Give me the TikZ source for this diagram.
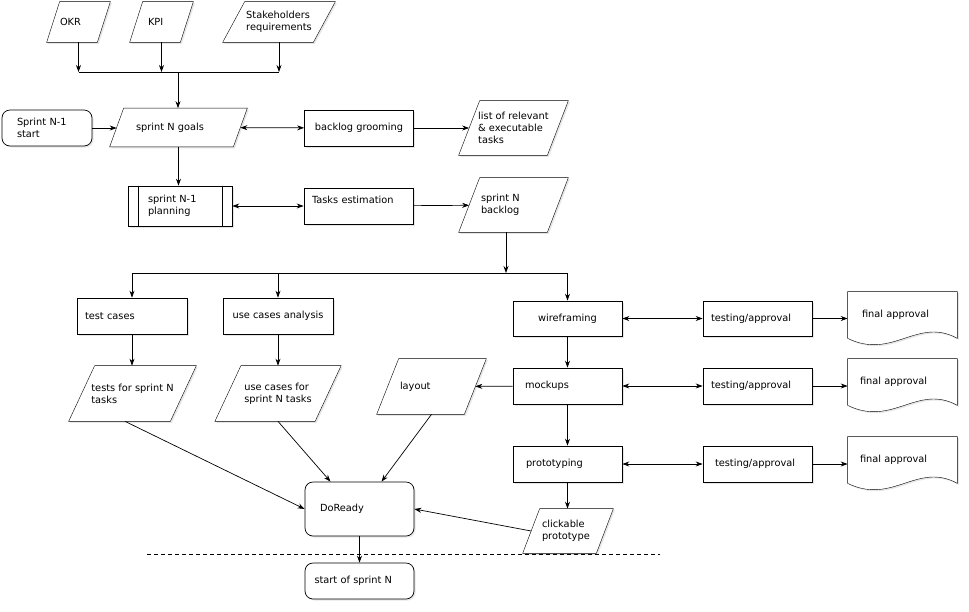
\documentclass[tikz,border=0pt]{standalone}
\usepackage{fontspec}
\setmainfont{DejaVu Sans}
\usetikzlibrary{arrows.meta, positioning, calc, shadows, backgrounds}

\begin{document}
\begin{tikzpicture}[x=1pt, y=-1pt, line width=0.7pt, >={Stealth[length=7pt, width=5pt]},
    every node/.style={font=\fontsize{9.8}{12}\selectfont, inner sep=0pt},
    boxshadow/.style={fill=white, drop shadow={opacity=0.2, shadow xshift=1.5pt, shadow yshift=-1.5pt}},
    box/.style={rectangle, draw, boxshadow, minimum width=109pt, minimum height=36pt, align=left},
    term/.style={rounded corners=8pt},
    data/.style={rectangle, align=left},
    doc/.style={rectangle, minimum width=109pt, minimum height=46pt, align=left}]
    \useasboundingbox (0,0) rectangle (969,611);

    % inputs
    \node[data, minimum width=50pt, minimum height=40pt, text width=37pt] (okr) at (78.5,22) {OKR};
    \node[data, minimum width=50pt, minimum height=40pt, text width=27pt] (kpi) at (161.5,22) {KPI};
    \node[data, minimum width=90pt, minimum height=40pt] (stake) at (279,22) {Stakeholders\\requirements};
    \coordinate (join) at (178,72);

    % goals and planning
    \node[box, term, minimum width=90pt, text width=60pt] (start) at (47,128) {Sprint N-1\\start};
    \node[data, minimum width=123pt, minimum height=38pt, text width=85pt] (goals) at (178.5,127.5) {sprint N goals};
    \node[box, align=center] (groom) at (359,128) {backlog grooming};
    \node[data, minimum width=88pt, minimum height=54pt] (list) at (513.5,128) {list of relevant\\\& executable\\tasks};
    \node[box, minimum width=104pt, minimum height=40pt, text width=64pt] (plan) at (180,206) {sprint N-1\\planning};
    \node[box, text width=93pt, text depth=12pt] (estim) at (358.5,206) {Tasks estimation};
    \node[data, minimum width=88pt, minimum height=54pt, text width=65pt] (backlog) at (513.5,205) {sprint N\\backlog};
    \coordinate (fork) at (506,273);

    % analysis
    \node[box, minimum width=110pt, text width=94pt] (testc) at (132,316) {test cases};
    \node[box, minimum width=110pt, align=center] (usec) at (278,316) {use cases analysis};
    \node[data, minimum width=101pt, minimum height=55pt] (tests) at (132.5,393.5) {tests for sprint N\\tasks};
    \node[data, minimum width=99.5pt, minimum height=55pt] (usesp) at (278,393.5) {use cases for\\sprint N tasks};
    \node[data, minimum width=87pt, minimum height=55pt, text width=63pt] (layout) at (431.5,386.5) {layout};

    % design
    \node[box, minimum height=35pt, align=center] (wire) at (567.5,318.5) {wireframing};
    \node[box, minimum height=35pt, text width=93pt] (test1) at (757.5,318.5) {testing/approval};
    \node[doc, text width=81pt] (final1) at (902.5,315) {final approval};
    \node[box, text width=85pt] (mock) at (567.5,386) {mockups};
    \node[box, text width=93pt] (test2) at (757.5,386) {testing/approval};
    \node[doc, text width=85pt] (final2) at (902.5,382) {final approval};
    \node[box, text width=83pt] (proto) at (567.5,464) {prototyping};
    \node[box, text width=85pt] (test3) at (757.5,464) {testing/approval};
    \node[doc, text width=85pt] (final3) at (902.5,460) {final approval};
    \node[data, minimum width=73pt, minimum height=44pt, text width=52pt] (click) at (568,531) {clickable\\prototype};

    % ready
    \node[box, term, minimum height=54pt, text width=79pt] (ready) at (359.5,509) {DoReady};
    \node[box, term, text width=90pt] (startn) at (359.5,581) {start of sprint N};
    \coordinate (cutl) at (147,554);
    \coordinate (cutr) at (660,554);

    % shapes behind the text
    \begin{scope}[on background layer]
        \foreach \nm/\hs in {okr/6.5, kpi/6.5, stake/11, goals/7, list/10.5, backlog/10.5,
                tests/13, usesp/13, layout/11, click/8.5}
            \draw[boxshadow] ($(\nm.south west)+(-\hs,0)$) -- ($(\nm.north west)+(\hs,0)$)
                -- ($(\nm.north east)+(\hs,0)$) -- ($(\nm.south east)+(-\hs,0)$) -- cycle;
        \foreach \nm in {final1, final2, final3}
            \draw[boxshadow] (\nm.north west) -- (\nm.north east) -- (\nm.south east)
                .. controls +(-40,-22) and +(45,22) .. (\nm.south west) -- cycle;
    \end{scope}
    \draw ([xshift=11pt]plan.north west) -- ([xshift=11pt]plan.south west);
    \draw ([xshift=-10pt]plan.north east) -- ([xshift=-10pt]plan.south east);

    % connectors
    \draw[->] (okr) -- (okr |- join);
    \draw[->] (kpi) -- (kpi |- join);
    \draw[->] (stake) -- (stake |- join);
    \draw (okr |- join) -- (stake |- join);
    \draw[->] (join) -- (join |- goals.north);
    \draw[->] (start) -- (start -| goals.west);
    \draw[<->] (goals) -- (groom);
    \draw[->] (groom) -- (list);
    \draw[->] (goals.south) -- (goals.south |- plan.north);
    \draw[<->] (plan) -- (estim);
    \draw[->] (estim) -- (backlog);
    \draw[->] (backlog.south -| fork) -- (fork);
    \draw (testc |- fork) -- (wire |- fork);
    \draw[->] (testc |- fork) -- (testc);
    \draw[->] (usec |- fork) -- (usec);
    \draw[->] (wire |- fork) -- (wire);
    \draw[->] (testc) -- (testc |- tests.north);
    \draw[->] (usec) -- (usesp);
    \draw[<->] (wire) -- (test1);
    \draw[->] (test1.east) -- (test1.east -| final1.west);
    \draw[->] (wire) -- (mock);
    \draw[<->] (mock) -- (test2);
    \draw[->] (test2.east) -- (test2.east -| final2.west);
    \draw[->] (mock) -- (layout);
    \draw[->] (mock) -- (proto);
    \draw[<->] (proto) -- (test3);
    \draw[->] (test3.east) -- (test3.east -| final3.west);
    \draw[->] (proto) -- (proto |- click.north);
    \draw[->] (click.west) -- (ready.east);
    \draw[->] ([xshift=-7.5pt]tests.south) -- (ready.west);
    \draw[->] (usesp.south) -- ([xshift=-29pt]ready.north);
    \draw[->] (layout.south) -- ([xshift=22pt]ready.north);
    \draw[->] (ready) -- (startn);
    \draw[dashed, dash pattern=on 4pt off 3pt, line width=0.6pt] (cutl) -- (cutr);
\end{tikzpicture}
\end{document}
